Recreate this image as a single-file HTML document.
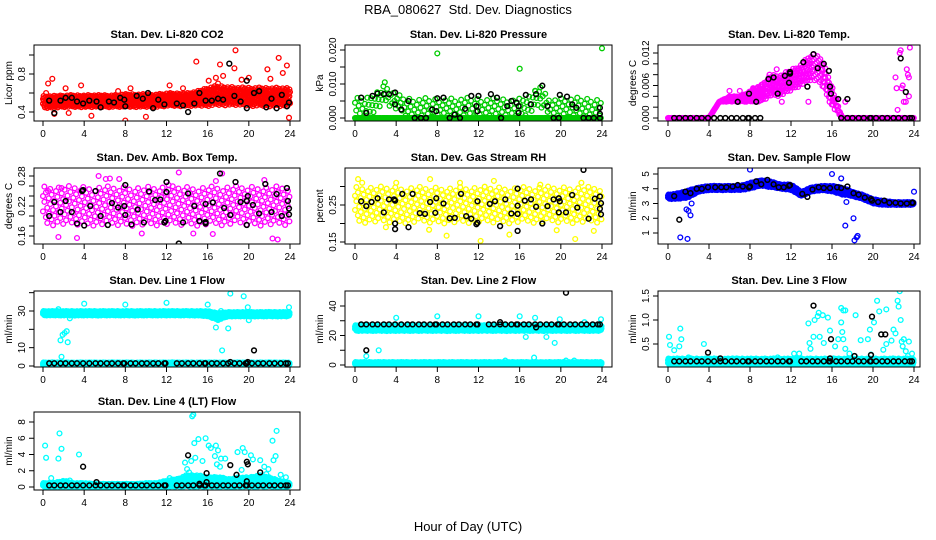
<!DOCTYPE html>
<html><head><meta charset="utf-8">
<style>
html,body{margin:0;padding:0;background:#fff;}
svg{display:block;font-family:"Liberation Sans",Arial,sans-serif;}
</style></head>
<body>
<svg id="chart" width="936" height="540" viewBox="0 0 936 540" xmlns="http://www.w3.org/2000/svg">
<rect x="0" y="0" width="936" height="540" fill="#fff"/>
<text x="468" y="14" text-anchor="middle" font-size="13" style="white-space:pre">RBA_080627  Std. Dev. Diagnostics</text>
<text x="468" y="531" text-anchor="middle" font-size="13">Hour of Day (UTC)</text>
</svg>
<script>
// ---- shared data ----
const xTicks = [0,4,8,12,16,20,24];
const blackHours = [0.6,1.1,1.7,2.2,2.8,3.3,3.9,4.5,5.1,5.6,6.2,6.7,7.3,7.8,7.9,8.5,9.0,9.6,10.1,10.7,11.2,11.8,11.9,13.0,13.5,14.1,14.6,15.2,15.7,15.8,16.4,16.9,17.5,18.0,18.6,19.1,19.7,19.8,20.3,20.9,21.4,22.0,22.5,23.1,23.6,23.8];

// P1 CO2
const co2BandLo = [0.44,0.44,0.45,0.45,0.45,0.45,0.45,0.45,0.45,0.45,0.45,0.45,0.46,0.46,0.46,0.46,0.46,0.47,0.47,0.47,0.46,0.46,0.46,0.46,0.46];
const co2BandHi = [0.57,0.57,0.58,0.58,0.58,0.58,0.58,0.58,0.59,0.59,0.59,0.59,0.60,0.60,0.60,0.62,0.66,0.68,0.67,0.66,0.66,0.66,0.66,0.66,0.65];
const co2OutX = [0.3,0.5,0.9,1.1,2.2,2.5,3.7,4.7,7.3,8.0,8.5,10.0,12.3,13.6,14.9,16.8,17.2,17.5,18.7,18.6,21.8,22.9,23.3,23.7,23.9,19.3,20.0,22.1,16.1,17.0];
const co2OutY = [0.60,0.70,0.75,0.38,0.65,0.39,0.68,0.36,0.62,0.31,0.65,0.35,0.68,0.65,0.93,0.76,0.90,0.78,1.05,0.86,0.85,0.97,0.81,0.89,0.34,0.74,0.76,0.75,0.73,0.70];
const co2BlackX = [0.6,1.1,1.7,2.2,2.8,3.3,3.9,4.5,5.2,5.6,6.4,6.9,7.5,7.9,8.0,9.1,9.7,10.2,10.7,11.2,11.8,13.0,13.6,14.1,14.7,15.2,15.8,16.4,17.0,17.5,18.1,18.6,19.2,19.8,19.8,20.5,21.0,21.7,22.2,22.7,23.2,23.7,23.9];
const co2BlackY = [0.52,0.39,0.52,0.55,0.55,0.51,0.49,0.52,0.51,0.45,0.51,0.50,0.55,0.53,0.46,0.57,0.54,0.60,0.44,0.53,0.48,0.49,0.47,0.40,0.49,0.60,0.52,0.52,0.54,0.53,0.91,0.57,0.51,0.44,0.73,0.60,0.62,0.45,0.54,0.44,0.58,0.46,0.50];

// P2 Pressure
const presBandLo = [0.000,0.000,0.002,0.004,0.002,0.000,0.000,0.000,0.000,0.000,0.000,0.000,0.000,0.000,0.000,0.000,0.000,0.001,0.003,0.000,0.000,0.000,0.000,0.000,0.000];
const presBandHi = [0.006,0.006,0.008,0.010,0.007,0.006,0.006,0.006,0.006,0.006,0.006,0.006,0.006,0.006,0.006,0.006,0.006,0.007,0.009,0.006,0.006,0.006,0.006,0.006,0.006];
const presOutX = [8.0,16.0,24.0,18.0,17.5,2.9];
const presOutY = [0.019,0.0145,0.0205,0.009,0.008,0.0105];
const presBlackX = [0.6,1.1,1.7,2.2,2.8,3.3,3.9,3.9,4.5,5.2,5.8,6.4,6.9,7.5,7.9,8.0,8.6,9.2,9.7,10.2,10.7,11.3,11.8,12.0,11.9,13.2,13.8,14.2,14.8,15.2,15.7,15.9,15.9,16.6,17.1,17.6,18.2,18.7,19.3,19.8,19.9,20.6,21.1,21.5,22.2,22.7,23.2,23.8,23.8,23.8];
const presBlackY = [0.006,0.0015,0.0065,0.0072,0.007,0.007,0.0075,0.004,0.0025,0.005,0,0,0,0.0025,0.002,0.0058,0.006,0,0.001,0,0.0027,0.0065,0.0035,0.0065,0.002,0.007,0.006,0,0.0035,0.005,0.0045,0.0035,0.0015,0.0068,0.004,0.007,0.0095,0.0035,0,0,0.0068,0.0063,0.004,0.003,0,0,0,0,0.003,0.0012];

// P3 Li-820 Temp
const tempBandLo = [0,0,0,0,0,0.003,0.003,0.003,0.003,0.003,0.004,0.004,0.005,0.006,0.007,0.006,0.002,0,0,0,0,0,0,0,0];
const tempBandHi = [0,0,0,0,0,0.003,0.004,0.004,0.005,0.006,0.008,0.008,0.009,0.010,0.012,0.011,0.006,0,0,0,0,0,0,0,0];
const tempOutX = [22.2,22.3,22.4,22.6,22.7,22.8,22.9,23.0,23.3,23.4,23.5,23.6,23.2,23.5,6.0,7.0,8.3,11.1,13.7,17.3,9.9,10.6];
const tempOutY = [0.0075,0.0055,0.0015,0.012,0.0125,0.0055,0.006,0.003,0.009,0.008,0.0075,0.013,0.003,0.004,0.005,0.005,0.0055,0.003,0.003,0.003,0.008,0.009];
const tempBlackX = [6.8,7.9,8.6,9.8,10.3,10.7,11.4,11.8,11.9,11.9,13.2,13.6,14.2,14.6,15.2,15.7,15.8,15.9,16.6,17.5,22.7,23.2];
const tempBlackY = [0.003,0.0045,0.003,0.0072,0.0075,0.0045,0.0078,0.0065,0.0085,0.0082,0.0103,0.0058,0.0118,0.0092,0.0100,0.0087,0.0058,0.0045,0.0035,0.0035,0.011,0.0048];

// P4 Amb box temp
const ambBandLo = [0.18,0.18,0.18,0.18,0.18,0.18,0.18,0.18,0.18,0.18,0.18,0.18,0.18,0.18,0.18,0.18,0.18,0.18,0.18,0.18,0.18,0.18,0.18,0.18,0.18];
const ambBandHi = [0.26,0.26,0.26,0.26,0.26,0.26,0.26,0.26,0.26,0.26,0.26,0.26,0.26,0.26,0.26,0.26,0.26,0.26,0.26,0.26,0.26,0.26,0.26,0.26,0.26];
const ambOutX = [0.5,1.8,5.4,6.1,6.5,7.4,8.0,9.6,10.6,13.2,14.6,16.5,17.4,21.5,22.3,22.8,3.3,1.5,12.2,16.8];
const ambOutY = [0.25,0.256,0.28,0.274,0.275,0.274,0.13,0.165,0.132,0.287,0.165,0.164,0.285,0.272,0.155,0.153,0.156,0.158,0.262,0.27];
const ambBlackX = [0.6,1.1,1.7,2.2,2.8,3.3,3.8,3.9,4.0,4.6,5.1,5.6,6.3,6.7,7.3,7.9,8.0,8.0,8.6,9.2,9.8,10.3,10.9,11.4,11.8,11.9,12.0,12.0,13.2,13.6,14.1,14.7,15.2,15.8,15.8,15.8,16.5,17.2,17.6,18.2,18.7,19.2,19.8,19.8,19.9,20.4,21.0,21.6,22.2,22.7,23.2,23.7,23.8,23.9,23.9];
const ambBlackY = [0.2,0.228,0.208,0.23,0.208,0.185,0.25,0.252,0.181,0.22,0.25,0.2,0.182,0.226,0.217,0.22,0.202,0.262,0.183,0.213,0.187,0.249,0.232,0.233,0.187,0.19,0.248,0.268,0.145,0.187,0.245,0.22,0.19,0.185,0.224,0.188,0.227,0.285,0.216,0.202,0.268,0.228,0.23,0.182,0.24,0.222,0.205,0.264,0.208,0.244,0.2,0.256,0.23,0.203,0.215];

// P5 Gas stream RH
const rhBandLo = [0.20,0.20,0.20,0.20,0.20,0.20,0.20,0.20,0.20,0.20,0.20,0.20,0.20,0.20,0.20,0.20,0.20,0.20,0.20,0.20,0.20,0.20,0.20,0.20,0.20];
const rhBandHi = [0.30,0.30,0.30,0.30,0.30,0.30,0.30,0.30,0.30,0.30,0.30,0.30,0.30,0.30,0.30,0.30,0.30,0.30,0.30,0.30,0.30,0.30,0.30,0.30,0.30];
const rhOutX = [0.3,0.7,4.0,7.3,10.2,13.5,8.9,12.2,21.4,22.0,7.2,19.6,3.0,18.0,23.2,15.0];
const rhOutY = [0.32,0.31,0.31,0.32,0.31,0.315,0.167,0.153,0.158,0.31,0.183,0.182,0.19,0.305,0.18,0.17];
const rhBlackX = [0.6,1.1,1.6,2.2,2.8,3.3,3.8,3.9,3.9,3.9,4.6,5.2,5.6,6.3,6.8,7.3,7.8,7.9,8.6,9.2,9.7,10.3,10.8,11.3,11.8,11.9,11.9,13.1,13.6,14.1,14.6,15.2,15.8,15.8,15.8,15.8,16.5,17.1,17.6,18.2,18.7,19.3,19.8,19.8,19.9,20.5,21.1,21.6,22.2,22.7,23.3,23.8,23.8,23.9,23.9];
const rhBlackY = [0.26,0.247,0.258,0.268,0.23,0.265,0.265,0.2,0.262,0.185,0.28,0.19,0.28,0.228,0.226,0.258,0.229,0.268,0.254,0.214,0.215,0.28,0.22,0.213,0.198,0.202,0.26,0.253,0.26,0.193,0.265,0.227,0.294,0.248,0.226,0.18,0.262,0.265,0.245,0.2,0.247,0.265,0.268,0.23,0.26,0.23,0.277,0.243,0.345,0.213,0.267,0.273,0.24,0.255,0.225];

// P6 Sample flow
const sfBandLo = [3.3,3.3,3.4,3.8,3.9,3.9,3.9,3.9,4.0,4.2,4.1,4.0,3.9,3.5,3.8,3.9,3.8,3.6,3.5,3.3,3.0,2.9,2.9,2.9,2.9];
const sfBandHi = [3.6,3.7,3.9,4.1,4.2,4.2,4.2,4.2,4.4,4.6,4.5,4.3,4.3,3.8,4.1,4.2,4.2,4.1,3.8,3.6,3.3,3.2,3.1,3.1,3.1];
const sfOutX = [1.2,1.9,1.8,2.0,2.2,2.3,8.0,16.0,16.9,17.4,17.3,18.1,18.2,18.4,18.5,24.0];
const sfOutY = [0.7,0.6,2.6,2.5,2.2,3.0,5.3,5.0,4.7,3.1,1.5,2.0,0.5,0.7,0.8,3.8];
const sfBlackX = [0.6,1.1,1.7,2.2,2.8,3.3,3.9,4.6,5.2,5.7,6.3,6.8,7.3,7.9,8.0,8.6,9.1,9.7,10.3,10.8,11.3,11.8,11.9,13.1,13.6,14.1,14.7,15.2,15.8,16.5,16.9,17.5,18.1,18.6,19.2,19.8,19.9,20.5,21.1,21.6,22.2,22.7,23.3,23.8,23.9];
const sfBlackY = [3.5,1.9,3.8,3.7,4.0,4.0,4.1,4.1,4.1,4.1,4.15,4.25,4.15,4.1,4.15,4.5,4.3,4.6,4.3,4.1,4.1,4.2,4.25,3.65,3.45,3.95,4.1,4.05,4.05,4.1,4.05,4.15,3.7,3.6,3.4,3.3,3.2,3.1,3.2,3.05,3.05,3.0,3.0,3.05,3.05];

// P7 Line 1
const l1BandLo = [27.5,27.5,27.5,27.5,27.5,27.5,27.5,27.5,27.5,27.5,27.5,27.5,27.5,27.5,27.5,27.5,27,25,27,27,27,27,27,27,27];
const l1BandHi = [30,30,30,30,30,30,30,30,30,30,30,30,30,30,30,30,30,29,29.5,29.5,29.5,29.5,29.5,29.5,29.5];
const l1ZeroLo = [0,0,0,0,0,0,0,0,0,0,0,0,0,0,0,0,0,0,0,0,0,0,0,0,0];
const l1ZeroHi = [2,2,2,2,2,2,2,2,2,2,2,2,2,2,2,2,2,2,2,2,2,2,2,2,2];
const l1OutX = [1.5,1.7,1.8,1.9,2.1,2.3,2.4,2.6,4.0,8.0,12.0,16.0,16.8,17.4,17.3,18.2,18.0,19.5,19.9,20.0,23.9];
const l1OutY = [31,14,5,17,18,19,13,26,34,33.5,34.5,33.5,21,8.5,30,39.5,20.5,38,32,25,32];
const l1BlackLevel = 1.5;
const l1BlackX = [18.2,19.9,20.5];
const l1BlackY = [2.2,2.2,8.5];

// P8 Line 2
const l2BandLo = [23,23,23,23,23,23,23,23,23,23,23,23,23,23,23,23,23,23,23,23,23,23,23,23,23];
const l2BandHi = [27,27,27,27,27,27,27,27,27,27,27,27,27,27,27,27,27,27,27,27,27,27,27,27,27];
const l2ZeroLo = [0,0,0,0,0,0,0,0,0,0,0,0,0,0,0,0,0,0,0,0,0,0,0,0,0];
const l2ZeroHi = [2,2,2,2,2,2,2,2,2,2,2,2,2,2,2,2,2,2,2,2,2,2,2,2,2];
const l2OutX = [1.1,2.3,4.0,8.0,12.0,16.0,16.6,17.4,17.5,18.6,19.4,19.9,20.5,21.3,22.3,23.9,14.6];
const l2OutY = [6,10,32,33,33,33,19,5,32,19,15,31,3,3,29,31,3];
const l2BlackLevel = 27.5;
const l2BlackX = [1.1,20.5,17.6,14.1];
const l2BlackY = [10,49,25.5,29];

// P9 Line 3
const l3BandLo = [0.05,0.05,0.05,0.05,0.05,0.05,0.05,0.05,0.05,0.05,0.05,0.05,0.05,0.05,0.05,0.05,0.05,0.05,0.05,0.05,0.05,0.05,0.05,0.05,0.05];
const l3BandHi = [0.2,0.2,0.2,0.2,0.2,0.2,0.2,0.2,0.2,0.2,0.2,0.2,0.2,0.2,0.2,0.2,0.2,0.2,0.2,0.2,0.2,0.2,0.2,0.2,0.2];
const l3OutX = [0.1,0.2,0.6,1.1,1.2,1.3,3.5,2.0,6.3,10.7,12.3,12.8,13.7,13.8,13.9,14.2,14.3,14.6,14.7,14.8,15.1,15.6,15.2,15.8,16.3,16.6,16.9,17.1,17.3,16.9,17.0,17.1,17.3,17.7,18.3,18.8,19.5,19.7,19.8,20.1,20.4,20.6,20.8,21.0,21.3,21.3,21.8,22.0,22.2,22.4,22.5,22.6,22.7,22.8,23.0,23.2,23.5,23.8,23.4,22.9];
const l3OutY = [0.65,0.48,0.37,0.45,0.82,0.6,0.5,0.22,0.2,0.22,0.3,0.3,0.93,0.52,0.4,0.65,1.0,1.08,1.15,0.65,1.1,1.05,0.52,0.78,0.45,0.6,1.25,1.2,1.2,0.95,0.75,0.6,0.4,0.3,1.1,0.58,0.6,0.8,0.28,0.95,1.4,1.18,0.7,0.38,1.22,0.5,0.57,0.8,0.72,1.4,1.28,1.6,1.0,0.55,0.6,0.35,0.55,0.3,0.25,0.45];
const l3BlackLevel = 0.14;
const l3BlackX = [3.9,14.2,15.9,19.9,20.8,21.2,18.2,19.8,15.8,5.1];
const l3BlackY = [0.32,1.3,0.6,1.07,0.7,0.7,0.25,0.27,0.2,0.2];

// P10 Line 4
const l4BandLo = [0,0,0,0,0,0,0,0,0,0,0,0,0,0,0,0,0,0,0,0,0,0,0,0,0];
const l4BandHi = [0.5,0.5,0.8,0.5,0.5,0.4,0.4,0.4,0.4,0.4,0.5,0.5,0.8,1.0,1.5,1.5,1.2,1.3,1.0,1.2,1.2,1.5,1.2,0.8,0.5];
const l4OutX = [0.2,0.3,0.8,1.5,1.6,1.8,3.5,2.6,12.3,13.8,14.0,14.2,14.4,14.7,14.5,14.6,14.8,15.1,15.5,15.8,16.1,16.3,16.7,16.8,16.9,17.0,17.2,17.3,17.7,18.9,19.4,19.6,19.3,20.2,20.4,21.1,21.5,21.9,22.3,22.4,22.6,22.7,23.1,23.6,21.7,18.2];
const l4OutY = [5.1,3.6,1.1,3.5,6.6,4.7,4.0,0.8,1.1,3.0,2.2,1.8,3.2,5.4,8.7,8.9,3.6,5.9,3.2,6.0,5.1,4.8,3.8,5.1,2.8,4.5,2.5,3.5,3.5,4.3,4.8,4.3,2.1,3.9,3.4,3.3,2.5,2.2,5.7,3.3,3.8,6.9,1.5,1.2,1.6,0.9];
const l4BlackLevel = 0.2;
const l4BlackX = [3.9,5.2,14.1,15.9,15.9,18.2,18.8,19.8,19.9,19.8,21.1,15.2];
const l4BlackY = [2.5,0.6,3.9,1.7,0.6,2.7,1.5,3.1,2.8,0.7,1.8,0.4];

// ---- layout ----
const NS = 'http://www.w3.org/2000/svg';
const svg = document.getElementById('chart');
const cols = [{l:34,r:300,x0:43,x24:290},{l:345,r:612,x0:355,x24:602},{l:658,r:920,x0:668,x24:914}];
const rows = [{t:45,b:121},{t:168,b:244},{t:291,b:367},{t:412,b:490}];

function mk(tag, attrs, parent){
  const e = document.createElementNS(NS, tag);
  for (const k in attrs) e.setAttribute(k, attrs[k]);
  (parent||svg).appendChild(e);
  return e;
}
function frac(v){ return v - Math.floor(v); }

function panel(cfg){
  const c = cols[cfg.col], r = rows[cfg.row];
  const g = mk('g', {});
  
  
  const xs = h => c.x0 + (c.x24 - c.x0) * h / 24;
  const ys = v => cfg.p0 + (cfg.p1 - cfg.p0) * (v - cfg.v0) / (cfg.v1 - cfg.v0);
  const clip = 'clip-' + cfg.name;
  const cp = mk('clipPath', {id: clip}, g);
  mk('rect', {x:c.l, y:r.t, width:c.r-c.l, height:r.b-r.t}, cp);
  const marks = mk('g', {'clip-path':'url(#'+clip+')'}, g);
  
  
  let d = '';
  const circ = (x, y) => { d += 'M' + (x-2.4).toFixed(1) + ',' + y.toFixed(1) + 'a2.4,2.4 0 1,0 4.8,0a2.4,2.4 0 1,0 -4.8,0'; };
  (cfg.bands||[]).forEach(b => {
    let k = 0;
    for (let h = b.start; h <= b.end; h += b.dt) {
      const i = Math.min(23, Math.floor(h));
      const f = h - i;
      const lo = b.lo[i] + (b.lo[i+1] - b.lo[i]) * f;
      const hi = b.hi[i] + (b.hi[i+1] - b.hi[i]) * f;
      for (let n = 0; n < b.n; n++) {
        k++;
        circ(xs(h), ys(lo + (hi - lo) * frac(k * 0.61803 + 0.13)));
      }
    }
  });
  (cfg.outX||[]).forEach((h, i) => circ(xs(h), ys(cfg.outY[i])));
  const colored = mk('path', {d:d, fill:'none', stroke:cfg.color, 'stroke-width':1.3}, marks);
  
  
  d = '';
  if (cfg.blackLevel !== undefined) blackHours.forEach(h => { if (!(cfg.skip && h > cfg.skip[0] && h < cfg.skip[1])) circ(xs(h), ys(cfg.blackLevel)); });
  (cfg.bx||[]).forEach((h, i) => circ(xs(h), ys(cfg.by[i])));
  const blk = mk('path', {d:d, fill:'none', stroke:'#000', 'stroke-width':1.5}, marks);
  
  
  const fr = mk('rect', {x:c.l, y:r.t, width:c.r-c.l, height:r.b-r.t, fill:'none', stroke:'#000', 'stroke-width':1}, g);
  
  
  const xa = mk('g', {}, g);
  
  
  mk('line', {x1:xs(0), x2:xs(24), y1:r.b, y2:r.b, stroke:'#000'}, xa);
  xTicks.forEach(t => {
    mk('line', {x1:xs(t), x2:xs(t), y1:r.b, y2:r.b+5, stroke:'#000'}, xa);
    const tx = mk('text', {x:xs(t), y:r.b+16, 'text-anchor':'middle', 'font-size':10}, xa);
    tx.textContent = t;
  });
  const ya = mk('g', {}, g);
  
  
  mk('line', {x1:c.l, x2:c.l, y1:ys(cfg.ticks[0]), y2:ys(cfg.ticks[cfg.ticks.length-1]), stroke:'#000'}, ya);
  cfg.ticks.forEach((t, i) => {
    const y = ys(t);
    mk('line', {x1:c.l-5, x2:c.l, y1:y, y2:y, stroke:'#000'}, ya);
    if (cfg.labels[i]) {
      const tx = mk('text', {x:0, y:0, 'text-anchor':'middle', 'font-size':10, transform:'translate('+(c.l-9)+','+y+') rotate(-90)'}, ya);
      tx.textContent = cfg.labels[i];
    }
  });
  const yt = mk('text', {x:0, y:0, 'text-anchor':'middle', 'font-size':10, transform:'translate('+(c.l-22)+','+((r.t+r.b)/2)+') rotate(-90)'}, g);
  
  
  yt.textContent = cfg.ylab;
  const tt = mk('text', {x:(c.l+c.r)/2, y:r.t-7, 'text-anchor':'middle', 'font-size':11, 'font-weight':'bold'}, g);
  
  
  tt.textContent = cfg.title;
}

panel({name:'co2-panel', col:0, row:0, title:'Stan. Dev. Li-820 CO2', ylab:'Licor ppm', color:'#ff0000',
  v0:0.4, p0:112, v1:0.8, p1:74, ticks:[0.4,0.6,0.8,1.0], labels:['0.4','','0.8',''],
  bands:[{lo:co2BandLo, hi:co2BandHi, start:0, end:24, dt:0.06, n:2}], outX:co2OutX, outY:co2OutY, bx:co2BlackX, by:co2BlackY});
panel({name:'pressure-panel', col:1, row:0, title:'Stan. Dev. Li-820 Pressure', ylab:'kPa', color:'#00cc00',
  v0:0, p0:118, v1:0.02, p1:50, ticks:[0,0.005,0.01,0.015,0.02], labels:['0.000','','0.010','','0.020'],
  bands:[{lo:presBandLo, hi:presBandHi, start:0, end:24, dt:0.12, n:1}, {lo:l1ZeroLo, hi:l1ZeroLo, start:0, end:24, dt:0.12, n:1}],
  outX:presOutX, outY:presOutY, bx:presBlackX, by:presBlackY});
panel({name:'li820-temp-panel', col:2, row:0, title:'Stan. Dev. Li-820 Temp.', ylab:'degrees C', color:'#ff00ff',
  v0:0, p0:118, v1:0.012, p1:53, ticks:[0,0.002,0.004,0.006,0.008,0.010,0.012], labels:['0.000','','','0.006','','','0.012'],
  bands:[{lo:tempBandLo, hi:tempBandHi, start:0, end:9.3, dt:0.06, n:1}, {lo:tempBandLo, hi:tempBandHi, start:5.2, end:16.3, dt:0.07, n:2}, {lo:tempBandLo, hi:tempBandHi, start:16.3, end:24, dt:0.06, n:1}],
  outX:tempOutX, outY:tempOutY, bx:tempBlackX, by:tempBlackY, blackLevel:0, skip:[9.3,16.8]});
panel({name:'amb-box-temp-panel', col:0, row:1, title:'Stan. Dev. Amb. Box Temp.', ylab:'degrees C', color:'#ff00ff',
  v0:0.16, p0:236, v1:0.28, p1:176, ticks:[0.16,0.18,0.20,0.22,0.24,0.26,0.28], labels:['0.16','','','0.22','','','0.28'],
  bands:[{lo:ambBandLo, hi:ambBandHi, start:0, end:24, dt:0.14, n:2}], outX:ambOutX, outY:ambOutY, bx:ambBlackX, by:ambBlackY});
panel({name:'gas-rh-panel', col:1, row:1, title:'Stan. Dev. Gas Stream RH', ylab:'percent', color:'#ffff00',
  v0:0.15, p0:242, v1:0.25, p1:205, ticks:[0.15,0.20,0.25,0.30], labels:['0.15','','0.25',''],
  bands:[{lo:rhBandLo, hi:rhBandHi, start:0, end:24, dt:0.14, n:2}], outX:rhOutX, outY:rhOutY, bx:rhBlackX, by:rhBlackY});
panel({name:'sample-flow-panel', col:2, row:1, title:'Stan. Dev. Sample Flow', ylab:'ml/min', color:'#0000ff',
  v0:1, p0:233, v1:5, p1:174, ticks:[1,2,3,4,5], labels:['1','2','3','4','5'],
  bands:[{lo:sfBandLo, hi:sfBandHi, start:0, end:24, dt:0.05, n:2}], outX:sfOutX, outY:sfOutY, bx:sfBlackX, by:sfBlackY});
panel({name:'line1-flow-panel', col:0, row:2, title:'Stan. Dev. Line 1 Flow', ylab:'ml/min', color:'#00ffff',
  v0:0, p0:366, v1:30, p1:311, ticks:[0,10,20,30,40], labels:['0','10','','30',''],
  bands:[{lo:l1BandLo, hi:l1BandHi, start:0, end:24, dt:0.05, n:2}, {lo:l1ZeroLo, hi:l1ZeroHi, start:0, end:24, dt:0.05, n:2}],
  outX:l1OutX, outY:l1OutY, bx:l1BlackX, by:l1BlackY, blackLevel:l1BlackLevel, skip:[12.1,12.9]});
panel({name:'line2-flow-panel', col:1, row:2, title:'Stan. Dev. Line 2 Flow', ylab:'ml/min', color:'#00ffff',
  v0:0, p0:365, v1:40, p1:306, ticks:[0,10,20,30,40], labels:['0','','20','','40'],
  bands:[{lo:l2BandLo, hi:l2BandHi, start:0, end:24, dt:0.05, n:2}, {lo:l2ZeroLo, hi:l2ZeroHi, start:0, end:24, dt:0.05, n:2}],
  outX:l2OutX, outY:l2OutY, bx:l2BlackX, by:l2BlackY, blackLevel:l2BlackLevel, skip:[12.1,12.9]});
panel({name:'line3-flow-panel', col:2, row:2, title:'Stan. Dev. Line 3 Flow', ylab:'ml/min', color:'#00ffff',
  v0:0.5, p0:344, v1:1.5, p1:296, ticks:[0.5,1.0,1.5], labels:['0.5','1.0','1.5'],
  bands:[{lo:l3BandLo, hi:l3BandHi, start:0, end:24, dt:0.05, n:2}],
  outX:l3OutX, outY:l3OutY, bx:l3BlackX, by:l3BlackY, blackLevel:l3BlackLevel, skip:[12.1,12.9]});
panel({name:'line4-flow-panel', col:0, row:3, title:'Stan. Dev. Line 4 (LT) Flow', ylab:'ml/min', color:'#00ffff',
  v0:0, p0:487, v1:8, p1:422, ticks:[0,2,4,6,8], labels:['0','2','4','6','8'],
  bands:[{lo:l4BandLo, hi:l4BandHi, start:0, end:24, dt:0.05, n:2}],
  outX:l4OutX, outY:l4OutY, bx:l4BlackX, by:l4BlackY, blackLevel:l4BlackLevel, skip:[12.1,12.9]});
</script>
</body></html>
